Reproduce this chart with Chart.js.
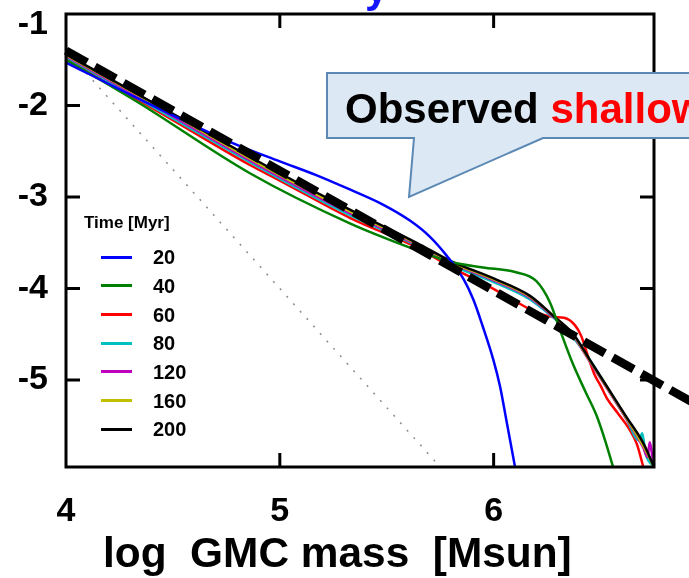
<!DOCTYPE html>
<html>
<head>
<meta charset="utf-8">
<script src="https://cdn.jsdelivr.net/npm/chart.js@4.4.1/dist/chart.umd.min.js"></script>
<style>
  html, body { margin: 0; padding: 0; background: #fff; }
  #wrap { position: relative; width: 689px; height: 578px; overflow: hidden;
          font-family: "Liberation Sans", Arial, Helvetica, sans-serif; font-weight: bold; }
  #c { position: absolute; left: 0; top: 0; }
  .txt { position: absolute; white-space: pre; line-height: 1; }
  .sw { position: absolute; width: 31px; height: 3px; }
</style>
</head>
<body>
<div id="wrap">
  <canvas id="c" width="689" height="578"></canvas>
  <!-- title is cut off by the top edge, only the tail of the "y" shows -->
  <div class="txt" style="left:365px;top:-33px;font-size:42px;color:#1414ff;">y</div>
  <svg width="689" height="578" style="position:absolute;left:0;top:0;">
    <polygon points="327,73 700,73 700,138 543,138 409,197 414,138 327,138"
             fill="#dde8f5" stroke="#5b89b4" stroke-width="2"/>
  </svg>
  <div class="txt" style="left:345px;top:88px;font-size:42px;color:#000;">Observed <span style="color:#ff0000">shallow</span></div>
  <div id="legend"></div>
  <div class="txt" style="left:103px;top:532px;font-size:42.4px;color:#000;">log  GMC mass  [Msun]</div>
</div>
<script>
// 軸刻度
const xTicks = [4, 5, 6];
const yTicks = [-1, -2, -3, -4, -5];

// 各時間的質量函數（log M, log N）
const seriesLabels = ['20', '40', '60', '80', '120', '160', '200'];
const seriesColors = ['#0000ff', '#008000', '#ff0000', '#00c0c0', '#c000c0', '#c0c000', '#000000'];

const massT20 = [4.0, 4.3, 4.78, 5.0, 5.17, 5.33, 5.48, 5.61, 5.70, 5.78, 5.86, 5.905, 5.95, 6.0, 6.03, 6.062, 6.10];
const logNT20 = [-1.53, -1.88, -2.41, -2.61, -2.76, -2.92, -3.08, -3.26, -3.43, -3.64, -3.90, -4.12, -4.42, -4.79, -5.07, -5.47, -5.95];

const massT40 = [4.0, 4.34, 4.86, 5.33, 5.64, 5.80, 5.95, 6.10, 6.20, 6.265, 6.31, 6.37, 6.43, 6.48, 6.52, 6.56];
const logNT40 = [-1.50, -1.97, -2.74, -3.29, -3.58, -3.71, -3.77, -3.82, -3.92, -4.16, -4.45, -4.82, -5.13, -5.38, -5.65, -5.96];

const massT60 = [4.0, 4.5, 4.86, 5.0, 5.33, 5.64, 5.81, 5.95, 6.08, 6.20, 6.28, 6.33, 6.38, 6.41, 6.44, 6.47, 6.50, 6.53, 6.58, 6.63, 6.67, 6.70];
const logNT60 = [-1.48, -2.16, -2.65, -2.82, -3.23, -3.55, -3.78, -3.94, -4.11, -4.26, -4.31, -4.32, -4.40, -4.52, -4.73, -4.93, -5.06, -5.20, -5.36, -5.52, -5.70, -5.95];

const massT80 = [4.0, 4.5, 4.86, 5.0, 5.33, 5.64, 5.80, 6.0, 6.17, 6.28, 6.33, 6.37, 6.42, 6.47, 6.53, 6.62, 6.68, 6.695, 6.71, 6.75];
const logNT80 = [-1.47, -2.14, -2.62, -2.80, -3.20, -3.53, -3.74, -3.93, -4.12, -4.32, -4.42, -4.53, -4.68, -4.85, -5.08, -5.42, -5.66, -5.58, -5.80, -5.95];

const massT120 = [4.0, 4.5, 4.86, 5.0, 5.33, 5.64, 5.80, 6.0, 6.17, 6.28, 6.37, 6.45, 6.53, 6.62, 6.70, 6.72, 6.73, 6.74, 6.75];
const logNT120 = [-1.46, -2.12, -2.60, -2.78, -3.18, -3.52, -3.72, -3.91, -4.10, -4.31, -4.51, -4.80, -5.09, -5.42, -5.74, -5.84, -5.68, -5.80, -5.95];

const massT160 = [4.0, 4.5, 4.86, 5.0, 5.33, 5.64, 5.80, 6.0, 6.17, 6.28, 6.37, 6.45, 6.53, 6.62, 6.70, 6.75];
const logNT160 = [-1.45, -2.10, -2.58, -2.76, -3.16, -3.51, -3.71, -3.90, -4.09, -4.30, -4.50, -4.79, -5.08, -5.41, -5.72, -5.95];

const massT200 = [4.0, 4.5, 4.86, 5.0, 5.33, 5.64, 5.80, 6.0, 6.17, 6.28, 6.37, 6.45, 6.53, 6.62, 6.70, 6.75];
const logNT200 = [-1.44, -2.09, -2.56, -2.74, -3.14, -3.50, -3.70, -3.89, -4.08, -4.30, -4.49, -4.78, -5.07, -5.40, -5.69, -5.95];

// 觀測到的淺斜率（粗虛線）與陡斜率參考線（灰點線）
const massObs = [4.0, 6.95];
const logNObs = [-1.40, -5.27];
const massSteep = [4.0, 5.75];
const logNSteep = [-1.40, -5.95];

const seriesMass = [massT20, massT40, massT60, massT80, massT120, massT160, massT200];
const seriesLogN = [logNT20, logNT40, logNT60, logNT80, logNT120, logNT160, logNT200];
const seriesOrder = [1, 2, 7, 6, 5, 4, 3];

function toPoints(xs, ys) {
  return xs.map((x, i) => ({ x: x, y: ys[i] }));
}

const datasets = [
  {
    label: 'observed', data: toPoints(massObs, logNObs),
    borderColor: '#000', borderWidth: 8.5, borderDash: [24, 9], borderCapStyle: 'butt',
    clip: false, order: 0
  },
  {
    label: 'steep', data: toPoints(massSteep, logNSteep),
    borderColor: '#8c8c8c', borderWidth: 1.5, borderDash: [2, 8], order: 9
  }
];
seriesLabels.forEach((lab, i) => {
  datasets.push({
    label: lab, data: toPoints(seriesMass[i], seriesLogN[i]),
    borderColor: seriesColors[i], borderWidth: 2.5,
    cubicInterpolationMode: 'monotone', order: seriesOrder[i]
  });
});

// 外框與朝內的刻度線
const framePlugin = {
  id: 'frame',
  afterDraw(chart) {
    const { ctx, chartArea: a, scales } = chart;
    ctx.save();
    ctx.strokeStyle = '#000';
    ctx.lineWidth = 3;
    ctx.strokeRect(a.left, a.top, a.right - a.left, a.bottom - a.top);
    const len = 14;
    ctx.beginPath();
    xTicks.forEach(v => {
      const px = scales.x.getPixelForValue(v);
      if (px <= a.left + 2) return;
      ctx.moveTo(px, a.bottom); ctx.lineTo(px, a.bottom - len);
      ctx.moveTo(px, a.top); ctx.lineTo(px, a.top + len);
    });
    yTicks.forEach(v => {
      const py = scales.y.getPixelForValue(v);
      if (py <= a.top + 2) return;
      ctx.moveTo(a.left, py); ctx.lineTo(a.left + len, py);
      ctx.moveTo(a.right, py); ctx.lineTo(a.right - len, py);
    });
    ctx.stroke();
    ctx.restore();
  }
};

const tickFont = { family: '"Liberation Sans", Arial, Helvetica, sans-serif', size: 34, weight: 'bold', lineHeight: 0.8 };
// 最上面的 -1 標籤在原圖中略往下移
const topTickFont = { family: '"Liberation Sans", Arial, Helvetica, sans-serif', size: 34, weight: 'bold', lineHeight: 0.6 };

new Chart(document.getElementById('c').getContext('2d'), {
  type: 'line',
  data: { datasets },
  options: {
    responsive: false,
    animation: false,
    devicePixelRatio: 1,
    layout: { padding: { top: 14, right: 35, left: 0, bottom: 0 } },
    elements: { point: { radius: 0 }, line: { fill: false } },
    plugins: { legend: { display: false }, tooltip: { enabled: false } },
    scales: {
      x: {
        type: 'linear', min: 4, max: 6.75,
        afterBuildTicks: s => { s.ticks = xTicks.map(v => ({ value: v })); },
        afterFit: s => { s.height = 111; s.paddingLeft = 0; s.paddingRight = 0; },
        grid: { display: false, drawTicks: false }, border: { display: false },
        ticks: { font: tickFont, color: '#000', padding: 31, maxRotation: 0 }
      },
      y: {
        type: 'linear', min: -5.95, max: -1,
        afterBuildTicks: s => { s.ticks = yTicks.map(v => ({ value: v })); },
        afterFit: s => { s.width = 66; s.paddingTop = 0; s.paddingBottom = 0; },
        grid: { display: false, drawTicks: false }, border: { display: false },
        ticks: {
          color: '#000', padding: 18,
          font: c => (c.tick && c.tick.value === -1 ? topTickFont : tickFont),
          callback: v => (v === -1 ? ['', '-1'] : String(v))
        }
      }
    }
  },
  plugins: [framePlugin]
});

// 圖例（Time [Myr]）
const leg = document.getElementById('legend');
let html = '<div class="txt" style="left:84px;top:214px;font-size:17px;color:#000;">Time [Myr]</div>';
seriesLabels.forEach((lab, i) => {
  const y = 257 + i * 28.7;
  html += `<div class="sw" style="left:101px;top:${(y - 1.5).toFixed(1)}px;background:${seriesColors[i]}"></div>`;
  html += `<div class="txt" style="left:153px;top:${(y - 9.8).toFixed(1)}px;font-size:20px;color:#000;">${lab}</div>`;
});
leg.innerHTML = html;
</script>
</body>
</html>
